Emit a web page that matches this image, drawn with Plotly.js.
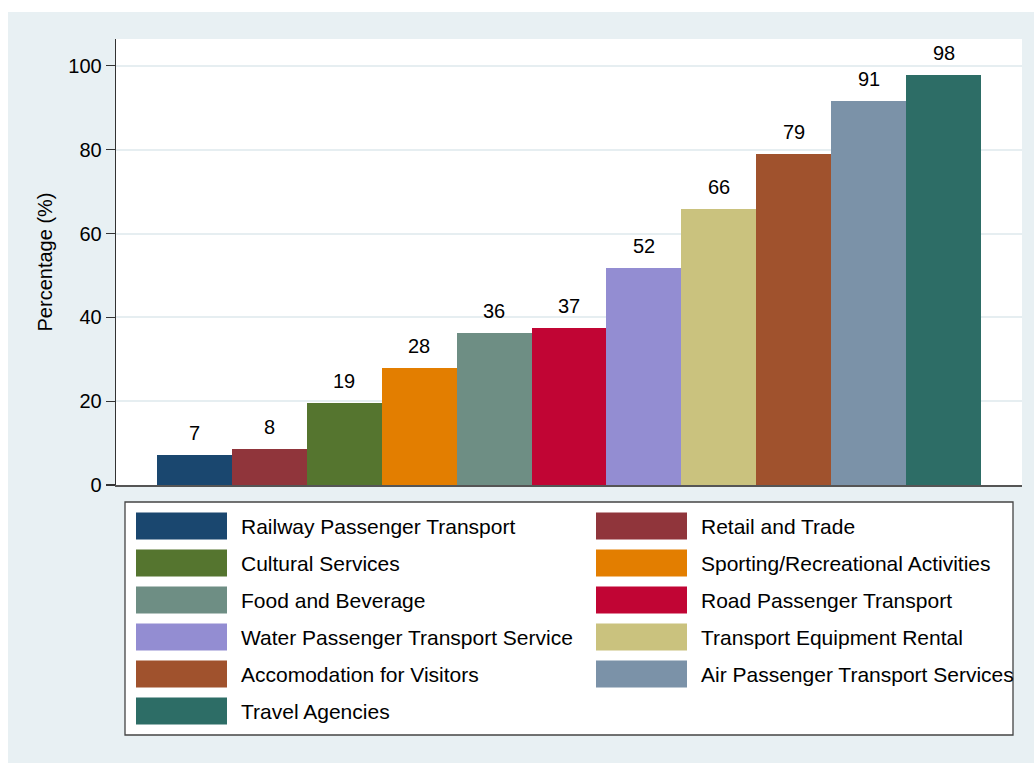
<!DOCTYPE html>
<html>
<head>
<meta charset="utf-8">
<script src="https://cdn.plot.ly/plotly-3.0.1.min.js"></script>
<style>
  html, body { margin: 0; padding: 0; background: #ffffff; width: 1034px; height: 763px; overflow: hidden; }
  #chart { position: absolute; left: 8px; top: 12px; width: 1026px; height: 751px; }
</style>
</head>
<body>
<div id="chart"></div>
<script>
// ---- data ----
const categories = [
  "Railway Passenger Transport",
  "Retail and Trade",
  "Cultural Services",
  "Sporting/Recreational Activities",
  "Food and Beverage",
  "Road Passenger Transport",
  "Water Passenger Transport Service",
  "Transport Equipment Rental",
  "Accomodation for Visitors",
  "Air Passenger Transport Services",
  "Travel Agencies"
];
const values = [7.2, 8.6, 19.6, 28.0, 36.3, 37.4, 51.8, 65.9, 79.0, 91.6, 97.9];
const valueLabels = ["7", "8", "19", "28", "36", "37", "52", "66", "79", "91", "98"];
const colors = ["#1a476f", "#90353b", "#55752f", "#e37e00", "#6e8e84", "#c10534",
                "#938dd2", "#cac27e", "#a0522d", "#7b92a8", "#2d6d66"];
const yTicks = [0, 20, 40, 60, 80, 100];

// ---- geometry (layout only) ----
const W = 1026, H = 751;
const M = { l: 108, r: 12, t: 27, b: 278 };
const plotW = W - M.l - M.r, plotH = H - M.t - M.b;
const px2x = px => (px - M.l) / plotW;           // div px -> paper x
const py2y = py => (H - M.b - py) / plotH;       // div px -> paper y
const sidePad = 0.548;
const FONT = "Liberation Sans, Arial, sans-serif";
const fs = 20;
const legFs = 21;

const traces = categories.map((c, i) => ({
  type: "bar",
  name: c,
  x: [i],
  y: [values[i]],
  width: [1],
  marker: { color: colors[i], line: { width: 0 } },
  showlegend: false,
  hoverinfo: "name+y"
}));

const annotations = categories.map((c, i) => ({
  x: i, y: values[i], xref: "x", yref: "y",
  text: valueLabels[i], showarrow: false,
  yanchor: "bottom", xanchor: "center", yshift: 9,
  font: { family: FONT, size: fs, color: "#000" }
}));

// custom legend (two columns)
const shapes = [];
const legBox = { x0: 117, x1: 1005, y0: 490, y1: 723 };
shapes.push({ type: "rect", xref: "paper", yref: "paper",
  x0: px2x(legBox.x0), x1: px2x(legBox.x1), y0: py2y(legBox.y1), y1: py2y(legBox.y0),
  fillcolor: "#ffffff", line: { color: "#444444", width: 1.3 }, layer: "below" });
const colSw = [128, 588], swW = 91, swH = 27, txtOff = 103;
const rowY0 = 514, rowStep = 37;
categories.forEach((c, i) => {
  const col = i % 2, row = Math.floor(i / 2);
  const cy = rowY0 + row * rowStep;
  const sx = colSw[col];
  shapes.push({ type: "rect", xref: "paper", yref: "paper",
    x0: px2x(sx), x1: px2x(sx + swW), y0: py2y(cy + swH / 2), y1: py2y(cy - swH / 2),
    fillcolor: colors[i], line: { width: 0 } });
  annotations.push({ xref: "paper", yref: "paper", x: px2x(sx + txtOff), y: py2y(cy),
    xanchor: "left", yanchor: "middle", text: c, showarrow: false,
    font: { family: FONT, size: legFs, color: "#000" } });
});

const layout = {
  width: W, height: H,
  margin: M,
  paper_bgcolor: "#e8f0f3",
  plot_bgcolor: "#ffffff",
  font: { family: FONT, size: fs, color: "#000" },
  barmode: "overlay",
  bargap: 0,
  showlegend: false,
  xaxis: {
    range: [-0.5 - sidePad, categories.length - 0.5 + sidePad],
    showticklabels: false, ticks: "", showgrid: false, zeroline: false,
    showline: true, linecolor: "#555555", linewidth: 1.5, fixedrange: true
  },
  yaxis: {
    range: [0, 106.4],
    tickvals: yTicks, ticktext: yTicks.map(String),
    ticks: "outside", ticklen: 9, tickwidth: 1.3, tickcolor: "#333",
    showline: true, linecolor: "#333333", linewidth: 1.3,
    showgrid: true, gridcolor: "#e6eef1", gridwidth: 2,
    zeroline: false,
    tickfont: { family: FONT, size: fs, color: "#000" },
    title: { text: "Percentage (%)", font: { family: FONT, size: fs, color: "#000" }, standoff: 10 }
  },
  shapes: shapes,
  annotations: annotations
};

Plotly.newPlot("chart", traces, layout, { displayModeBar: false, staticPlot: true });
</script>
</body>
</html>
